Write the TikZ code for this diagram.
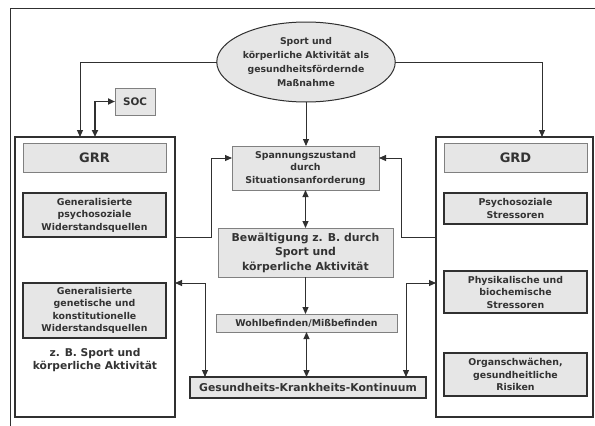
\documentclass[tikz,border=0pt]{standalone}
\usepackage{fontspec}
\setmainfont{DejaVu Sans}
\usetikzlibrary{arrows.meta,shapes.geometric}
\definecolor{boxfill}{HTML}{E6E6E6}
\definecolor{txt}{HTML}{333333}
\definecolor{lgray}{HTML}{808080}
\definecolor{dgray}{HTML}{303030}
\begin{document}
\begin{tikzpicture}[x=1pt,y=-1pt,
  every node/.style={inner sep=0pt, outer sep=0pt, text=txt, align=center},
  lab/.style={font=\fontsize{9.4}{12.5}\selectfont\bfseries},
  softbox/.style={draw=lgray, fill=boxfill, line width=1pt},
  hardbox/.style={draw=dgray, fill=boxfill, line width=1.4pt},
  hdr/.style={softbox, font=\fontsize{13}{15}\selectfont\bfseries},
  frame/.style={draw=dgray, line width=1.4pt},
  conn/.style={draw=dgray, line width=0.9pt},
  arr/.style={conn, -{Triangle[length=7pt,width=6pt]}},
  darr/.style={conn, {Triangle[length=7pt,width=6pt]}-{Triangle[length=7pt,width=6pt]}}
]
\useasboundingbox (0,0) rectangle (595,426);
\fill[white] (0,0) rectangle (595,426);
% outer frame
\draw[dgray, line width=1pt] (10,430) -- (10,8) -- (600,8);

% ellipse
\node[ellipse, draw=dgray, fill=boxfill, line width=1pt, minimum width=172, minimum height=80,
      font=\fontsize{9.3}{14}\selectfont\bfseries] (ell) at (306,62)
  {Sport und\\körperliche Aktivität als\\gesundheitsfördernde\\Maßnahme};

% SOC
\node[softbox, minimum width=40, minimum height=27, font=\fontsize{10.4}{12}\selectfont\bfseries] (soc) at (135,101.5) {SOC};

% GRR column
\node[frame, minimum width=160, minimum height=280] (grr) at (95,277) {};
\node[hdr, minimum width=143, minimum height=29] (grrh) at (94.5,157.5) {GRR};
\node[hardbox, lab, minimum width=143, minimum height=44] (grr1) at (94.5,215)
  {Generalisierte\\psychosoziale\\Widerstandsquellen};
\node[hardbox, lab, minimum width=143, minimum height=55] (grr2) at (94.5,310.5)
  {Generalisierte\\genetische und\\konstitutionelle\\Widerstandsquellen};
\node[font=\fontsize{10.7}{13.5}\selectfont\bfseries] (zb) at (95,360)
  {z. B. Sport und\\körperliche Aktivität};

% GRD column
\node[frame, minimum width=157, minimum height=280] (grd) at (514.5,277) {};
\node[hdr, minimum width=143, minimum height=29] (grdh) at (515.5,157.5) {GRD};
\node[hardbox, lab, minimum width=143, minimum height=31] (grd1) at (515.5,208.5)
  {Psychosoziale\\Stressoren};
\node[hardbox, lab, minimum width=143, minimum height=42] (grd2) at (515.5,292)
  {Physikalische und\\biochemische\\Stressoren};
\node[hardbox, lab, minimum width=143, minimum height=43] (grd3) at (515.5,374.5)
  {Organschwächen,\\gesundheitliche\\Risiken};

% centre column
\node[softbox, lab, minimum width=147, minimum height=44] (span) at (305.5,168)
  {Spannungszustand\\durch\\Situationsanforderung};
\node[softbox, minimum width=175, minimum height=49, font=\fontsize{10.9}{14.5}\selectfont\bfseries] (bew) at (305.5,252.5)
  {Bewältigung z. B. durch\\Sport und\\körperliche Aktivität};
\node[softbox, lab, minimum width=181, minimum height=18] (wohl) at (306.5,323)
  {Wohlbefinden/Mißbefinden};
\node[hardbox, minimum width=236, minimum height=21, font=\fontsize{10.8}{13}\selectfont\bfseries] (ges) at (308,387.5)
  {Gesundheits-Krankheits-Kontinuum};

% connectors
\draw[arr] (ell.west) -| ([xshift=65pt]grr.north west);
\draw[arr] (ell.east) -| ([xshift=106pt]grd.north west);
\draw[darr, line width=1.8pt] ([xshift=80pt]grr.north west) |- (soc.west);
\draw[arr] (ell.south) -- (ell.south |- span.north);
\draw[darr] (span.south) -- (bew.north);
\draw[arr] (bew.south) -- (bew.south |- wohl.north);
\draw[darr] (wohl.south) -- (wohl.south |- ges.north);
\draw[arr] (grr.east |- grr1.south) -- ++(36,0) |- ([yshift=10pt]span.west);
\draw[arr] (grd.west |- grr1.south) -- ++(-35,0) |- ([yshift=10pt]span.east);
\draw[darr] (grr.east |- grr2.north) -| ([xshift=15pt]ges.north west);
\draw[darr] ([xshift=-20pt]ges.north east) |- (grd.west |- grr2.north);
\end{tikzpicture}
\end{document}
